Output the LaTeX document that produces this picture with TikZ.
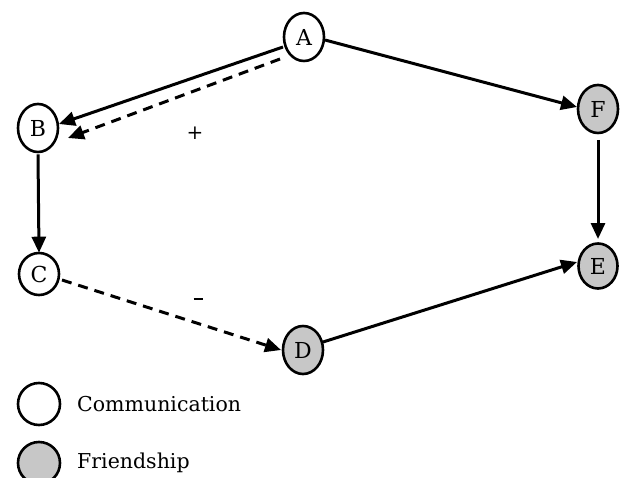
\documentclass[tikz,border=0pt]{standalone}
\usepackage{fontspec}
\setmainfont{DejaVu Serif}
\usetikzlibrary{arrows.meta,shapes.geometric}
\begin{document}
\begin{tikzpicture}[x=1pt,y=-1pt,
  nd/.style={draw,line width=2.6pt,ellipse,minimum width=40pt,minimum height=48pt,inner sep=0pt,font=\fontsize{22}{22}\selectfont},
  fr/.style={nd,fill=black!22},
  edge/.style={line width=3pt,-{Triangle[length=16pt,width=14pt]}},
  dedge/.style={edge,dash pattern=on 10pt off 7pt},
  lbl/.style={font=\fontsize{20.5}{20.5}\selectfont,anchor=west,inner sep=0pt}]
\useasboundingbox (0,0) rectangle (620,478);
\clip (0,0) rectangle (620,478);
\node[nd] (A) at (304,37) {A};
\node[nd] (B) at (38,128) {B};
\node[nd,minimum height=42pt] (C) at (39,274) {C};
\node[fr] (D) at (303,350) {D};
\node[fr,minimum width=39pt,minimum height=45pt] (E) at (598,266) {E};
\node[fr] (F) at (598,109) {F};
\draw[edge] ([shift={(-21,10)}]A.center) -- ([shift={(21,-4)}]B.center);
\draw[dedge] ([shift={(-24,22)}]A.center) -- ([shift={(30,10)}]B.center);
\draw[edge] ([yshift=-1pt]B.south) -- ([yshift=-1pt]C.north);
\draw[dedge] ([shift={(23,6)}]C.center) -- ([shift={(-22,0)}]D.center);
\draw[edge] ([shift={(20,-8)}]D.center) -- ([shift={(-21,-4)}]E.center);
\draw[edge] ([shift={(21,3)}]A.center) -- ([shift={(-21,-2)}]F.center);
\draw[edge] ([shift={(0,31)}]F.center) -- ([shift={(0,-27)}]E.center);
\node[font=\fontsize{20}{20}\selectfont] (plus) at (195,133) {+};
\node (minus) at (198,299) {\rule{9pt}{1.2pt}};
\node[nd,minimum width=42pt,minimum height=42pt] (L1) at (39,404) {};
\node[fr,minimum width=42pt,minimum height=42pt] (L2) at (39,463) {};
\node[lbl] (T1) at (77,404) {Communication};
\node[lbl] (T2) at (77,463) {Friendship};
\end{tikzpicture}
\end{document}
